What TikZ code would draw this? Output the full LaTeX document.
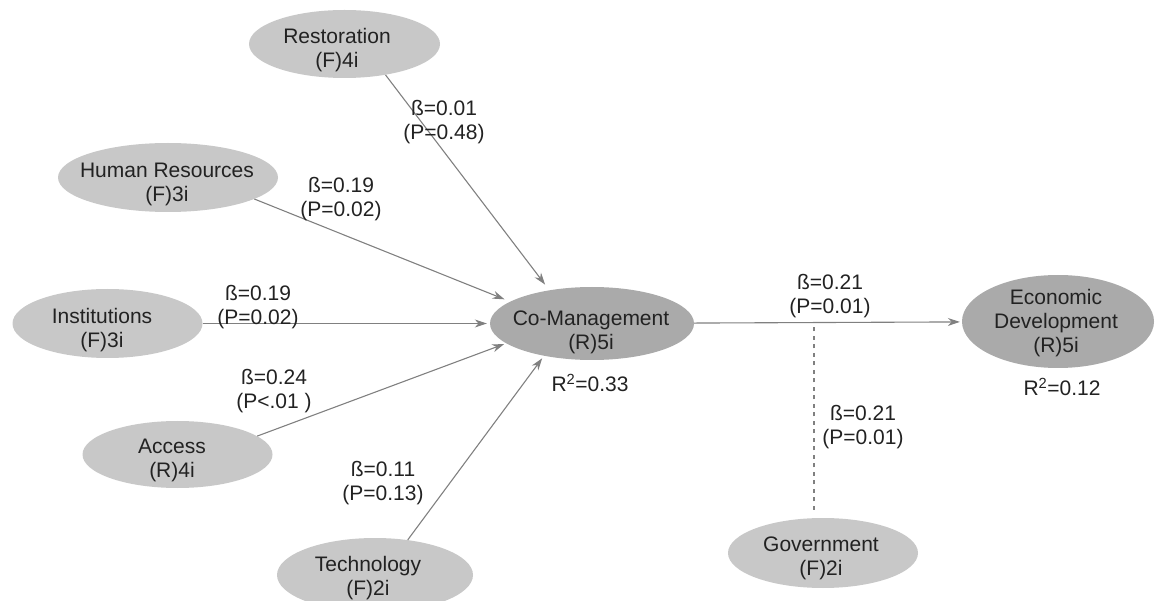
\documentclass[tikz,border=0pt]{standalone}
\usepackage{fontspec}
\setmainfont{Liberation Sans}
\usetikzlibrary{shapes.geometric,arrows.meta}
\definecolor{lightfill}{HTML}{C8C8C8}
\definecolor{darkfill}{HTML}{AAAAAA}
\definecolor{linegray}{HTML}{808080}
\definecolor{txt}{HTML}{222222}
\begin{document}
\begin{tikzpicture}[x=1pt,y=-1pt,
  every node/.style={font=\fontsize{21}{24}\selectfont, text=txt},
  latent/.style={ellipse, fill=lightfill, inner sep=0pt},
  latentdark/.style={latent, fill=darkfill},
  lbl/.style={align=center, inner sep=0pt},
  path/.style={draw=linegray, line width=1.1pt, -{Stealth[length=12pt,width=8pt]}},
  modline/.style={draw=linegray, line width=2.6pt, dash pattern=on 4pt off 4.5pt}]
\useasboundingbox (0,0) rectangle (1157,601);
% constructs (ellipses)
\node[latent, minimum width=191pt, minimum height=68pt] (rest) at (344.5,44) {};
\node[latent, minimum width=220pt, minimum height=69pt] (hr) at (168,177.5) {};
\node[latent, minimum width=190pt, minimum height=69pt] (inst) at (107.5,323.5) {};
\node[latent, minimum width=190pt, minimum height=67pt] (acc) at (177.5,454.5) {};
\node[latent, minimum width=196pt, minimum height=74pt] (tech) at (375,575) {};
\node[latentdark, minimum width=204pt, minimum height=73pt] (coman) at (592,323.5) {};
\node[latentdark, minimum width=192pt, minimum height=93pt] (eco) at (1058,321.5) {};
\node[latent, minimum width=190pt, minimum height=70pt] (gov) at (823,553) {};
% construct texts
\node[lbl] (restt) at (337,50) {Restoration\\(F)4i};
\node[lbl] (hrt) at (167,184) {Human Resources\\(F)3i};
\node[lbl] (instt) at (102,330) {Institutions\\(F)3i};
\node[lbl] (acct) at (172,460.5) {Access\\(R)4i};
\node[lbl] (techt) at (368,578.5) {Technology\\(F)2i};
\node[lbl] (comant) at (591,332.5) {Co-Management\\(R)5i};
\node[lbl] (ecot) at (1056,323) {Economic\\Development\\(R)5i};
\node[lbl] (govt) at (821,558.5) {Government\\(F)2i};
% connectors
\draw[path, shorten >=7pt] (rest.-37) -- (coman.142);
\draw[path, shorten >=6pt] (hr.-14) -- (coman.165);
\draw[path, shorten >=3pt] (inst) -- (coman);
\draw[path, shorten >=2pt] (acc.13) -- (coman.193);
\draw[path, shorten >=3pt] (tech.47) -- (coman.214);
\draw[path, shorten >=2pt] (coman) -- (eco);
\coordinate (mod) at (814,323);
\draw[modline, shorten <=8pt] (mod |- gov.north) -- (mod);
% labels
\node[lbl] (l1) at (444,122.5) {ß=0.01\\(P=0.48)};
\node[lbl] (l2) at (341,199.5) {ß=0.19\\(P=0.02)};
\node[lbl] (l3) at (258,307) {ß=0.19\\(P=0.02)};
\node[lbl] (l4) at (274,391.5) {ß=0.24\\(P<.01 )};
\node[lbl] (l5) at (383,483.5) {ß=0.11\\(P=0.13)};
\node[lbl] (l6) at (830,296) {ß=0.21\\(P=0.01)};
\node[lbl] (l7) at (863,427.5) {ß=0.21\\(P=0.01)};
\node[lbl] (r1) at (590,383) {R\textsuperscript{2}=0.33};
\node[lbl] (r2) at (1062,387) {R\textsuperscript{2}=0.12};
\end{tikzpicture}
\end{document}
